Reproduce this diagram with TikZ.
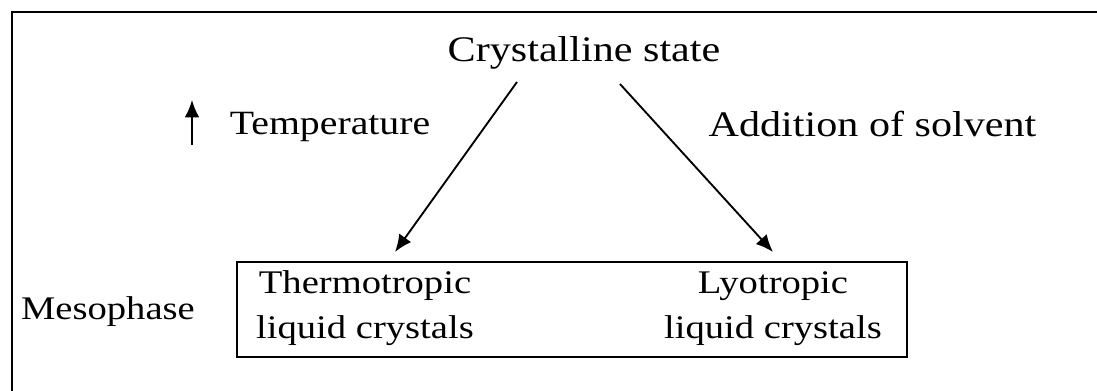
\documentclass[tikz,border=0pt]{standalone}
\usepackage{fontspec}
\setmainfont{Liberation Serif}[FakeStretch=1.17]
\usetikzlibrary{arrows.meta}

\begin{document}
\begin{tikzpicture}[x=0.75pt,y=0.75pt,yscale=-1,xscale=1,
  lbl/.style={inner sep=0pt,anchor=base,align=center,font=\fontsize{24.75}{34}\selectfont},
  big/.style={lbl,font=\fontsize{27}{32}\selectfont},
  arr/.style={line width=1.4pt,-{Latex[length=13pt,width=11pt]}}]
\useasboundingbox (0,0) rectangle (1097,391);

%Shape: Frame
\draw [line width=1.5pt]  (12,391) -- (12,12) -- (1097,12) ;

%Shape: Mesophase box
\node (box) [draw,line width=1.5pt,minimum width=502.5pt,minimum height=71.25pt,inner sep=0pt] at (572,309.5) {};

% Text Node
\node (cs) [big] at (584,62) {Crystalline state};
% Text Node
\node (temp) [lbl,font=\fontsize{25.5}{32}\selectfont] at (330,135) {Temperature};
% Text Node
\node (solv) [big] at (872.5,137) {Addition of solvent};
% Text Node
\node (meso) [lbl] at (108,320) {Mesophase};
% Text Node
\node (thermo) [lbl] at (365,339) {Thermotropic\\liquid crystals};
% Text Node
\node (lyo) [lbl] at (773,339) {Lyotropic\\liquid crystals};

%Straight Lines: up arrow
\coordinate (upS) at (192,145);
\coordinate (upE) at (192,100);
\draw [arr]  (upS) -- (upE) ;

%Straight Lines
\coordinate (csL) at (517,82);
\coordinate (tipL) at (395,252);
\draw [arr]  (csL) -- (tipL) ;

%Straight Lines
\coordinate (csR) at (620,84);
\coordinate (tipR) at (773,252);
\draw [arr]  (csR) -- (tipR) ;

\end{tikzpicture}
\end{document}
